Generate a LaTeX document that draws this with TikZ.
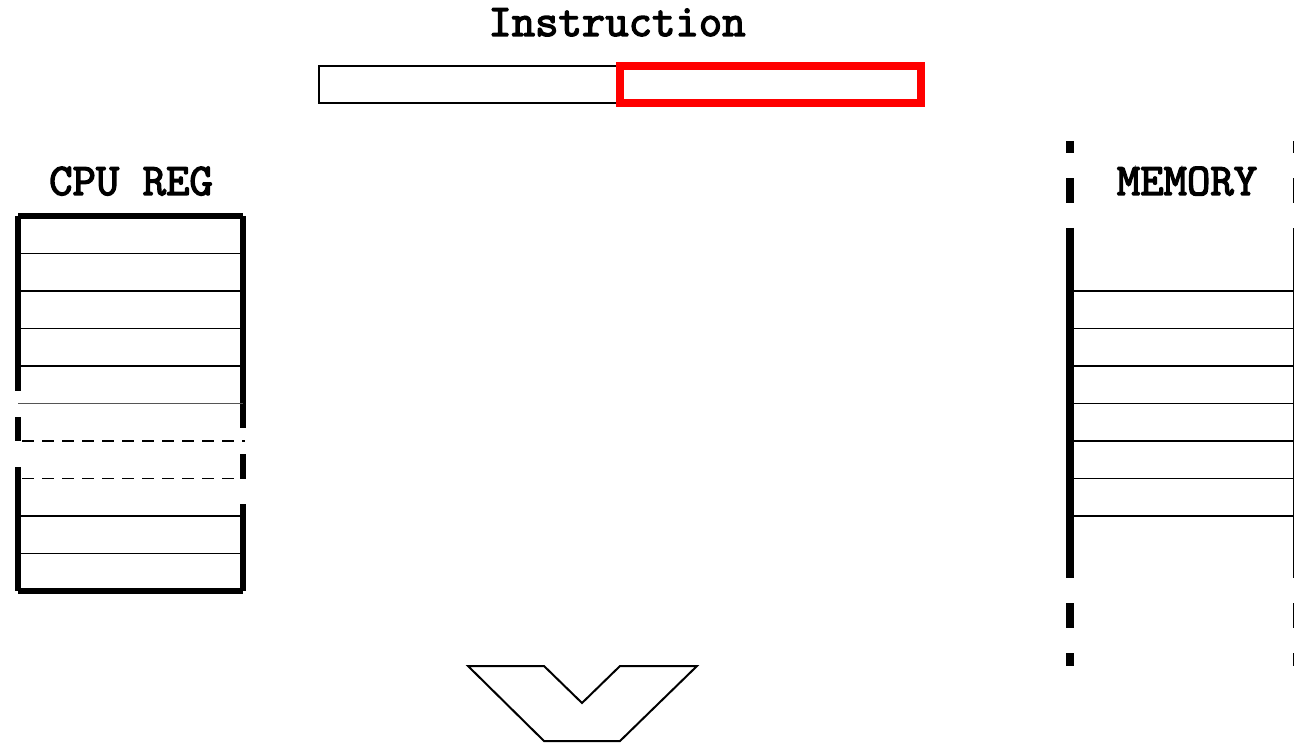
\documentclass[tikz,border=0pt]{standalone}
\usepackage{fontspec}
\newfontfamily\lblfont{Latin Modern Mono}[FakeBold=3]
\usetikzlibrary{positioning}
\usepackage{xcolor}
\definecolor{fieldred}{HTML}{FF0000}
\definecolor{cellgray}{HTML}{555555}

\begin{document}
\begin{tikzpicture}[x=0.5pt, y=-0.5pt,
    lbl/.style={font=\lblfont\fontsize{22.7}{26}\selectfont, anchor=base, inner sep=0pt},
    field/.style={draw, line width=1pt, minimum width=150.5pt, minimum height=18.5pt, inner sep=0pt},
    wall/.style={line width=3pt},
    memwall/.style={line width=3.6pt},
    cell/.style={line width=0.65pt}]
\useasboundingbox (0,0) rectangle (1294,743);

% instruction word
\node[lbl] (instr) at (617,36) {Instruction};
\node[field] (opfield) at (469.5,84.5) {};
\node[field, draw=fieldred, line width=4pt] (addrfield) at (770.5,84.5) {};

% cpu registers
\node[lbl] (cpulbl) at (131,195) {CPU REG};
\draw[wall] (18,216) -- (243,216);
\draw[wall] (18,591) -- (243,591);
\draw[wall] (18,216) -- (18,391) (18,417) -- (18,441) (18,467) -- (18,591);
\draw[wall] (243,216) -- (243,428) (243,454) -- (243,478.5) (243,504) -- (243,591);
\foreach \y in {253.5,291,328.5,366,516,553.5}
  \draw[cell] (18,\y) -- (243,\y);
\draw[cell, cellgray] (18,403.5) -- (243,403.5);
\draw[cell, dash pattern=on 6pt off 4pt, dash phase=-2pt] (18,441) -- (245,441);
\draw[cell, dash pattern=on 6pt off 4pt, dash phase=-2pt] (18,478.5) -- (243,478.5);

% memory
\node[lbl] (memlbl) at (1187,195) {MEMORY};
\foreach \x in {1070,1297} {
  \draw[memwall] (\x,228) -- (\x,578);
  \draw[memwall, dash pattern=on 12.5pt off 12.5pt, dash phase=12.5pt] (\x,228) -- (\x,141);
  \draw[memwall, dash pattern=on 12.5pt off 12.5pt, dash phase=12.5pt] (\x,578) -- (\x,666);
}
\foreach \y in {291,328.5,366,403.5,441,478.5,516}
  \draw[cell] (1070,\y) -- (1297,\y);

% alu
\draw[line width=1pt, line join=miter] (468,666) -- (544,666) -- (582,703) -- (620,666)
  -- (697,666) -- (620,741) -- (544,741) -- cycle;
\end{tikzpicture}
\end{document}
